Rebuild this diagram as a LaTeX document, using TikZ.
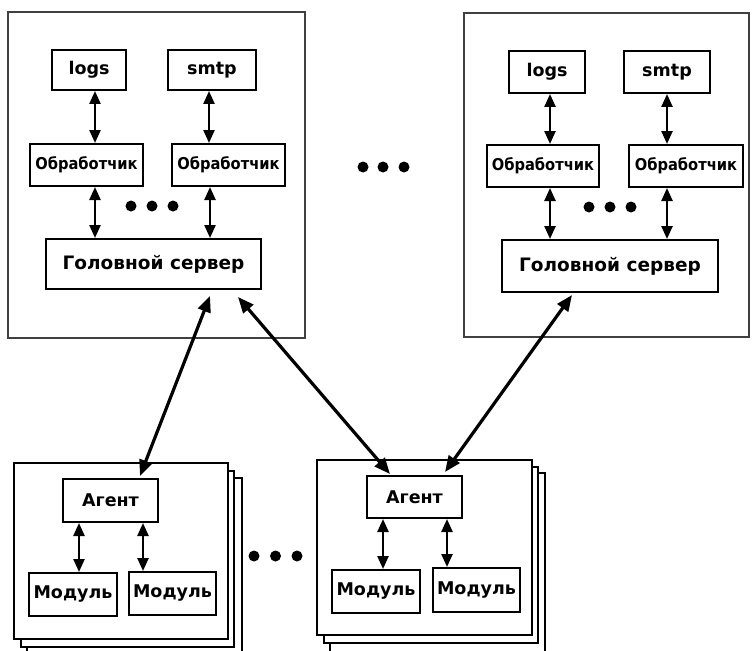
\documentclass[tikz,border=0pt]{standalone}
\usepackage{fontspec}
\setmainfont{DejaVu Sans}
\newfontfamily\condfont{DejaVu Sans Condensed}
\usetikzlibrary{arrows.meta}
\begin{document}
\begin{tikzpicture}[x=1pt,y=-1pt,
  box/.style={draw=black,line width=2pt,fill=white,inner sep=0pt,font=\fontsize{17.5}{17.5}\selectfont\bfseries},
  hbox/.style={box,font=\fontsize{18.5}{18.5}\selectfont\bfseries},
  obox/.style={box,font=\condfont\fontsize{16.3}{16.3}\selectfont\bfseries},
  frame/.style={draw=black!75,line width=1.5pt,fill=white},
  sheet/.style={draw=black,line width=1.6pt,fill=white},
  link/.style={line width=2.4pt,{Triangle[length=13pt,width=11pt]}-{Triangle[length=13pt,width=11pt]}},
  bigl/.style={line width=3.2pt,{Triangle[length=16pt,width=13pt]}-{Triangle[length=16pt,width=13pt]}},
  dot/.style={circle,fill=black,inner sep=0pt,minimum size=11pt}]
\useasboundingbox (0,0) rectangle (754,650);
% top-left frame
\draw[frame] (8,12) rectangle (305,338);
\node[box,minimum width=74pt,minimum height=40pt] (lg1) at (89,70) {logs};
\node[box,minimum width=88pt,minimum height=40pt] (sm1) at (212,70) {smtp};
\node[obox,minimum width=113pt,minimum height=42pt] (ob11) at (86.5,165) {Обработчик};
\node[obox,minimum width=113pt,minimum height=42pt] (ob12) at (228.5,165) {Обработчик};
\node[hbox,minimum width=215pt,minimum height=50pt] (hd1) at (153.5,264) {Головной сервер};
\draw[link] ([xshift=6pt]lg1.south) -- ([xshift=6pt]lg1.south |- ob11.north);
\draw[link] ([xshift=-3pt]sm1.south) -- ([xshift=-3pt]sm1.south |- ob12.north);
\draw[link] ([xshift=8.5pt]ob11.south) -- ([xshift=8.5pt]ob11.south |- hd1.north);
\draw[link] ([xshift=-18.5pt]ob12.south) -- ([xshift=-18.5pt]ob12.south |- hd1.north);
\node[dot] (d11) at (131,206) {};
\node[dot] (d12) at (152,206) {};
\node[dot] (d13) at (173,206) {};
% top-right frame
\draw[frame] (464,13) rectangle (749,337);
\node[box,minimum width=76pt,minimum height=42pt] (lg2) at (547,72) {logs};
\node[box,minimum width=86pt,minimum height=42pt] (sm2) at (667,72) {smtp};
\node[obox,minimum width=112pt,minimum height=42pt] (ob21) at (543,166) {Обработчик};
\node[obox,minimum width=114pt,minimum height=42pt] (ob22) at (686,166) {Обработчик};
\node[hbox,minimum width=216pt,minimum height=52pt] (hd2) at (610,266) {Головной сервер};
\draw[link] ([xshift=3pt]lg2.south) -- ([xshift=3pt]lg2.south |- ob21.north);
\draw[link] (sm2.south) -- (sm2.south |- ob22.north);
\draw[link] ([xshift=7pt]ob21.south) -- ([xshift=7pt]ob21.south |- hd2.north);
\draw[link] ([xshift=-19pt]ob22.south) -- ([xshift=-19pt]ob22.south |- hd2.north);
\node[dot] (d21) at (589,207) {};
\node[dot] (d22) at (610,207) {};
\node[dot] (d23) at (631,207) {};
% middle dots
\node[dot] (d31) at (363,167) {};
\node[dot] (d32) at (383,167) {};
\node[dot] (d33) at (404,167) {};
% bottom-left stack
\draw[sheet] (27,478) rectangle (242,656);
\draw[sheet] (21,471) rectangle (234,647);
\draw[sheet] (14,463) rectangle (228,639);
\node[box,minimum width=95pt,minimum height=43pt] (ag1) at (110.5,500.5) {Агент};
\node[box,minimum width=88pt,minimum height=43pt] (md11) at (73,594.5) {Модуль};
\node[box,minimum width=87pt,minimum height=43pt] (md12) at (172.5,593.5) {Модуль};
\draw[link] (md11.north -| 79,0) -- (ag1.south -| 79,0);
\draw[link] (md12.north -| 143,0) -- (ag1.south -| 143,0);
% bottom-right stack
\draw[sheet] (330,473) rectangle (545,656);
\draw[sheet] (324,467) rectangle (538,643);
\draw[sheet] (317,460) rectangle (532,635);
\node[box,minimum width=95pt,minimum height=42pt] (ag2) at (414.5,497) {Агент};
\node[box,minimum width=88pt,minimum height=43pt] (md21) at (376,591.5) {Модуль};
\node[box,minimum width=87pt,minimum height=44pt] (md22) at (476.5,590) {Модуль};
\draw[link] (md21.north -| 383,0) -- (ag2.south -| 383,0);
\draw[link] (md22.north -| 447,0) -- (ag2.south -| 447,0);
% bottom dots
\node[dot] (d41) at (254,556) {};
\node[dot] (d42) at (275.5,556) {};
\node[dot] (d43) at (297,556) {};
% long links
\draw[bigl] ([xshift=29.5pt,yshift=2pt]ag1.north) -- ([xshift=56.5pt,yshift=-6pt]hd1.south);
\draw[bigl] ([xshift=84.5pt,yshift=-7pt]hd1.south) -- ([xshift=-24.5pt,yshift=1pt]ag2.north);
\draw[bigl] ([xshift=-38pt,yshift=-2pt]hd2.south) -- ([xshift=30.5pt,yshift=3pt]ag2.north);
\end{tikzpicture}
\end{document}
